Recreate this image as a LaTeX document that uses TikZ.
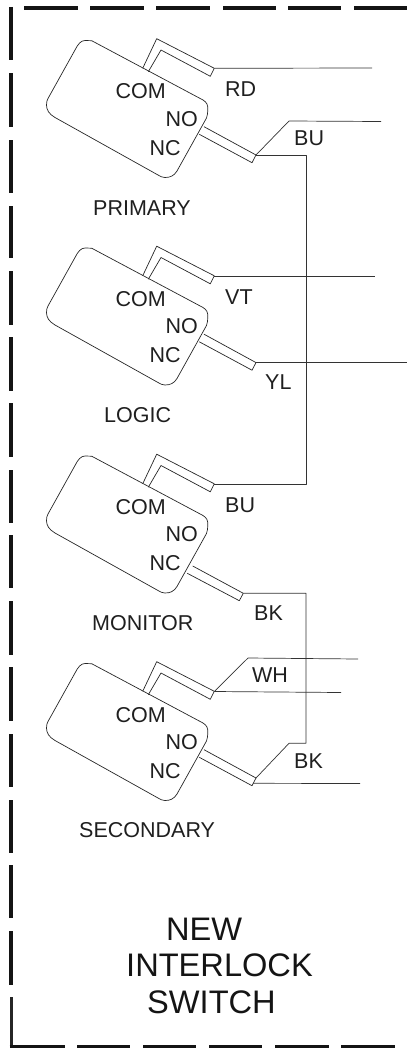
\documentclass[tikz,border=0pt]{standalone}
\usepackage{fontspec}
\setmainfont{Liberation Sans}
\tikzset{
  x=1pt,y=-1pt,
  thin wire/.style={line width=0.7pt,black!80,line join=round},
  body/.style={line width=0.7pt,black!85,line join=round},
  frame/.style={line width=4pt,black!92},
  lab/.style={font=\fontsize{21.5}{21.5}\selectfont,text=black!88,inner sep=0pt,anchor=base west},
  big/.style={font=\fontsize{32.6}{32.6}\selectfont,text=black!92,inner sep=0pt,anchor=base west},
}
\newcommand{\swbody}[1]{%
  \begin{scope}[yshift=-#1pt]
  \draw[body] (91.7,40.7) -- (203,100) .. controls (207,102.5) and (208,105) .. (207.8,110)
    .. controls (207.7,113) and (207.5,115) .. (206.5,118) -- (177,171)
    .. controls (174,176) and (170,177.5) .. (165,177.5)
    .. controls (162,177.5) and (161,176.5) .. (158,175) -- (55,117.5)
    .. controls (49,114) and (46.5,110) .. (46.5,105)
    .. controls (46.5,102) and (47,100.5) .. (48,98.5) -- (75,50)
    .. controls (78,44) and (81,40.5) .. (85,40.5) -- cycle;
  \draw[body] (142.7,68.3) -- (156.7,38.7) -- (214.3,68.3) -- (210.3,76.3) -- (161,50) -- (148.3,71.7);
  \end{scope}}
\begin{document}
\begin{tikzpicture}
\useasboundingbox (0,0) rectangle (407,1049);
% frame
\foreach \a/\b in {24/78,90/144,156/210,223/276,288/341,354/407}
  \draw[frame] (\a,7.7) -- (\b,7.7);
\foreach \a/\b in {7/60,73/127,140/193,206/258,271/325,337/391,403/457,470/523,535/588,601/655,667/721,734/787,800/853,865/918,931/985}
  \draw[frame] (11.3,\a) -- (11.3,\b);
\draw[line width=3.2pt,black!85] (11.3,997) -- (11.3,1046.7);
\draw[line width=3.4pt,black!92] (9.7,1046.7) -- (65,1046.7);
\foreach \a/\b in {77/130,143/196,209/262,275/329,341/395}
  \draw[line width=3.4pt,black!92] (\a,1046.7) -- (\b,1046.7);
% switches
\swbody{0}
\swbody{207.5}
\swbody{415.5}
\swbody{623}
% contact stubs
\coordinate (pa) at (204,126.7); \coordinate (pb) at (256,155); \coordinate (pc) at (252,162.7); \coordinate (pd) at (199.3,134.3);
\draw[body] (pa) -- (pb) -- (pc) -- (pd);
\coordinate (la) at (204,334.2); \coordinate (lb) at (256,362.6); \coordinate (lc) at (252,370.2); \coordinate (ld) at (199.3,341.8);
\draw[body] (la) -- (lb) -- (lc) -- (ld);
\coordinate (ma) at (192.7,566); \coordinate (mb) at (243.3,593.3); \coordinate (mc) at (239.3,600.7); \coordinate (md) at (187.3,573.3);
\draw[body] (ma) -- (mb) -- (mc) -- (md);
\coordinate (sa) at (204,749.7); \coordinate (sb) at (256,778); \coordinate (sc) at (252,785.7); \coordinate (sd) at (199.3,757.3);
\draw[body] (sa) -- (sb) -- (sc) -- (sd);
% wires
\coordinate (rd) at (372,68); \coordinate (rs) at (214.3,68.3);
\draw[thin wire] (rs) -- (rd);
\coordinate (vt0) at (214.3,276); \coordinate (vt1) at (375,276);
\draw[thin wire] (vt0) -- (vt1);
\coordinate (yl1) at (407,362.6);
\draw[thin wire] (lb) -- (yl1);
\coordinate (bu1) at (289,121); \coordinate (bu2) at (381,121.5);
\draw[thin wire] (pb) -- (bu1) -- (bu2);
\coordinate (bu3) at (306,155); \coordinate (bu4) at (306,484); \coordinate (bu5) at (214.3,484);
\draw[thin wire] (pb) -- (bu3) -- (bu4) -- (bu5);
\coordinate (bk1) at (306,593.3); \coordinate (bk2) at (306,743.3); \coordinate (bk3) at (289,743.3);
\draw[thin wire] (mb) -- (bk1) -- (bk2) -- (bk3) -- (sb);
\coordinate (bk0) at (253,783.3); \coordinate (bk4) at (360,783.5);
\draw[thin wire] (bk0) -- (bk4);
\coordinate (wh0) at (214.3,691.5); \coordinate (wh1) at (248,658); \coordinate (wh2) at (358,659); \coordinate (wh3) at (341,692.5);
\draw[thin wire] (wh0) -- (wh1) -- (wh2);
\draw[thin wire] (wh0) -- (wh3);
% labels
\foreach \o in {0,207.5,415.5,623}{
  \node[lab] at (115.5,99+\o) {COM};
  \node[lab] at (165.5,126+\o) {NO};
  \node[lab] at (149.5,155+\o) {NC};
}
\node[lab] at (225,96.5) {RD};
\node[lab] at (294,145.5) {BU};
\node[lab] at (93,215.5) {PRIMARY};
\node[lab] at (225,304) {VT};
\node[lab] at (265,389) {YL};
\node[lab] at (104,422.5) {LOGIC};
\node[lab] at (225,512.5) {BU};
\node[lab] at (254,620.5) {BK};
\node[lab] at (92,630) {MONITOR};
\node[lab] at (252,682.5) {WH};
\node[lab] at (294,768.5) {BK};
\node[lab] at (79,837.5) {SECONDARY};
\node[big] at (166,940.7) {NEW};
\node[big] at (126,976.7) {INTERLOCK};
\node[big] at (147,1013) {SWITCH};
\end{tikzpicture}
\end{document}
